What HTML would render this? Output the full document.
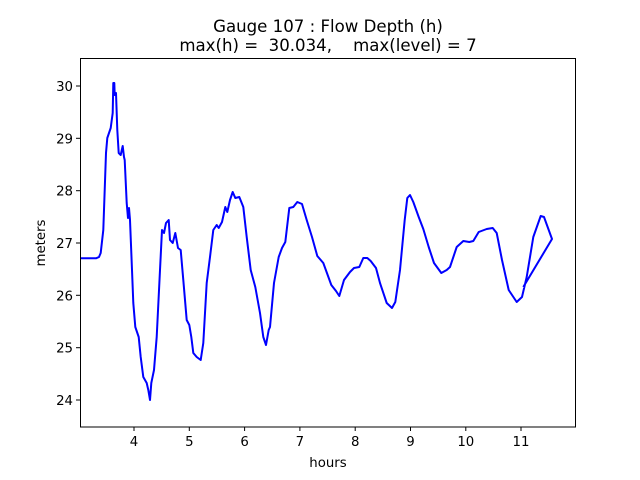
<!DOCTYPE html>
<html><head><meta charset="utf-8"><style>
body{margin:0;background:#fff}
svg{display:block;font-family:"DejaVu Sans","Liberation Sans",sans-serif}
</style></head><body>
<svg width="640" height="480" viewBox="0 0 640 480" xmlns="http://www.w3.org/2000/svg">
<rect width="640" height="480" fill="#fff"/>
<text x="328" y="32" font-size="16.6" text-anchor="middle">Gauge 107 : Flow Depth (h)</text>
<text x="328" y="51" font-size="16.6" text-anchor="middle" xml:space="preserve">max(h) =  30.034,    max(level) = 7</text>
<polyline fill="none" stroke="#0000ff" stroke-width="2" stroke-linejoin="round" points="
80,258.3 96,258.3 99,257 100.7,253 103.3,230 106,153 107.3,138 110.7,128 112.7,113 113.3,83 114.3,83 114.7,95 116,93 117.3,130 118.7,153 120.7,155 122.7,146 124,157 124.7,160 126.7,203 128,218 129,208 130,220 132,270 133.3,303 135.3,327 138.7,337 140.7,357 143.3,377 146.7,383 148.3,390 150,400 151.3,383 154,370 156.7,337 160,270 162,230 164,233 166,223 168.7,220 170,240 172.7,243 175.3,233 178,248 180.7,250 183.3,280 186.7,320 189.3,325 191.3,337 193.3,353 196.7,357 200.7,360 203.3,343 206.7,283 210,257 213.3,230 216.7,225 218.7,228 222,222 225.3,207 227.3,212 230,200 232.7,192 235.3,198 239.3,197 243.3,207 246.7,237 250.7,270 255.3,287 260,313 263.3,337 266,345 268.7,330 270,327 274,283 278.7,257 282,248 285.3,242 289.3,208 293.3,207 297.3,202 302,204 306.7,220 312,237 317.3,256 323.3,263 331.3,285 336,291 339.3,296 344,280 350,272 354,268 359.3,267 363.3,258 367.3,258 370.7,261 376,268 380,283 386.7,303 392,308 395.3,302 400,270 404.7,220 407.3,198 410,195 413.3,202 418.7,217 423.3,229 428.7,247 434,263 441.3,273 446.7,270 450,267 456.7,247 463.3,241 469.3,242 473.3,241 478.7,232 486.7,229 492.7,228 496.7,233 502,260 508.7,290 516.7,302 522,297 526.7,277 533.3,237 540.7,216 544,217 552,239 523.3,287"/>
<rect x="80.5" y="58.5" width="495" height="368.5" fill="none" stroke="#000" stroke-width="1"/>
<g stroke="#000" stroke-width="1">
<line x1="134" y1="427" x2="134" y2="431"/><line x1="189.3" y1="427" x2="189.3" y2="431"/><line x1="244.6" y1="427" x2="244.6" y2="431"/><line x1="299.9" y1="427" x2="299.9" y2="431"/><line x1="355.2" y1="427" x2="355.2" y2="431"/><line x1="410.5" y1="427" x2="410.5" y2="431"/><line x1="465.8" y1="427" x2="465.8" y2="431"/><line x1="521" y1="427" x2="521" y2="431"/>
<line x1="76" y1="86" x2="80" y2="86"/><line x1="76" y1="138.3" x2="80" y2="138.3"/><line x1="76" y1="190.7" x2="80" y2="190.7"/><line x1="76" y1="243" x2="80" y2="243"/><line x1="76" y1="295.3" x2="80" y2="295.3"/><line x1="76" y1="347.7" x2="80" y2="347.7"/><line x1="76" y1="400" x2="80" y2="400"/>
</g>
<g font-size="13.3" text-anchor="middle">
<text x="134" y="446">4</text><text x="189.3" y="446">5</text><text x="244.6" y="446">6</text><text x="299.9" y="446">7</text><text x="355.2" y="446">8</text><text x="410.5" y="446">9</text><text x="465.8" y="446">10</text><text x="521" y="446">11</text>
</g>
<g font-size="13.3" text-anchor="end">
<text x="73" y="91">30</text><text x="73" y="143.3">29</text><text x="73" y="195.7">28</text><text x="73" y="248">27</text><text x="73" y="300.3">26</text><text x="73" y="352.7">25</text><text x="73" y="405">24</text>
</g>
<text x="328" y="467" font-size="13.3" text-anchor="middle">hours</text>
<text transform="translate(45,243) rotate(-90)" font-size="13.3" text-anchor="middle">meters</text>
</svg>
</body></html>
